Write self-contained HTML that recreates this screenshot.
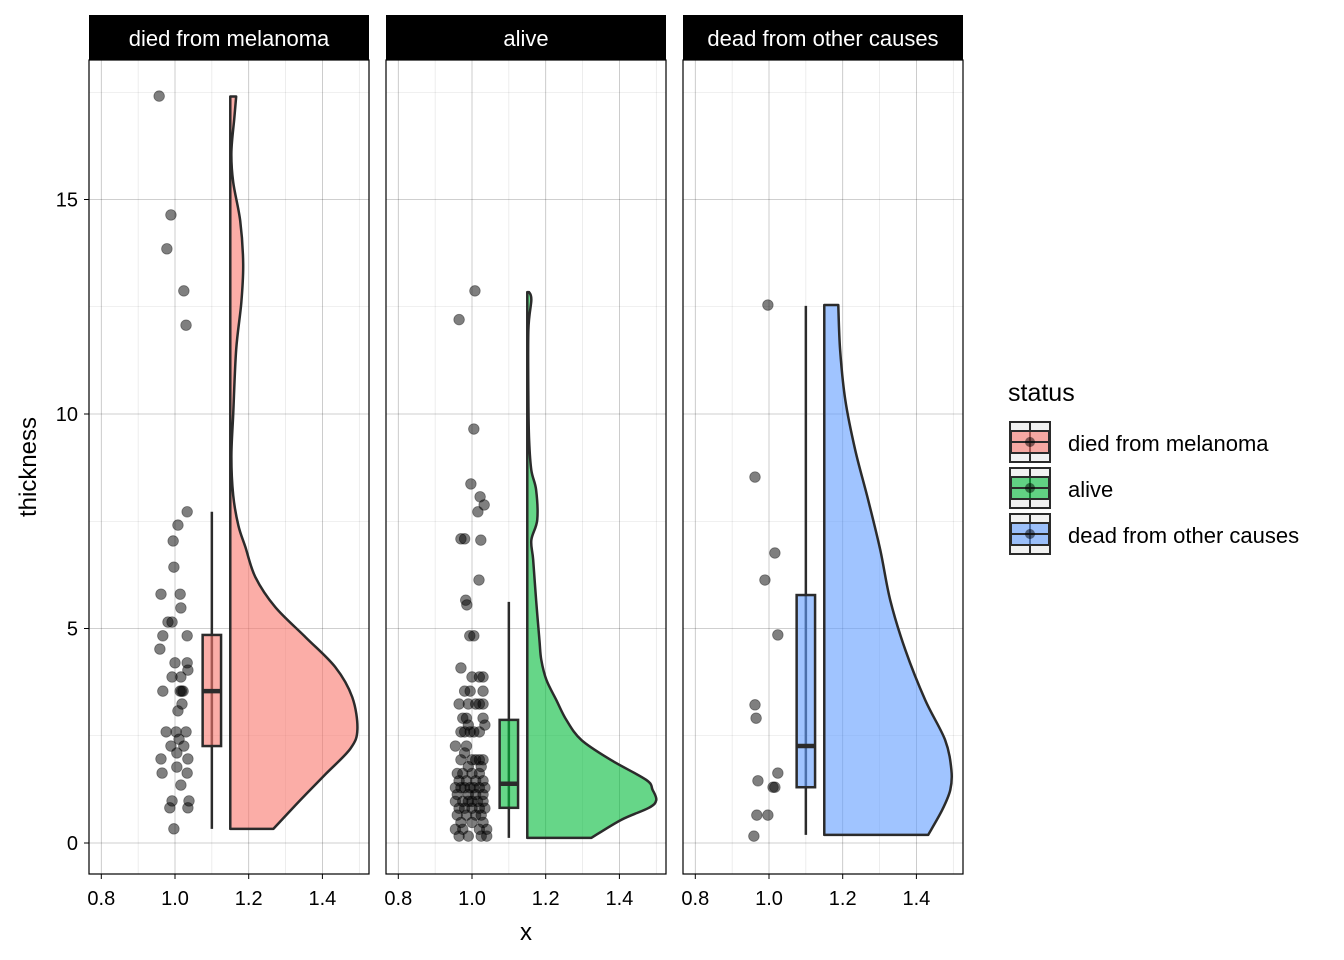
<!DOCTYPE html>
<html><head><meta charset="utf-8"><style>
body{margin:0;background:#fff;font-family:"Liberation Sans",Arial,sans-serif}
svg{display:block}
</style></head><body>
<svg id="c" width="1344" height="960" xmlns="http://www.w3.org/2000/svg"></svg>
<script>
const panelNames=["died from melanoma","alive","dead from other causes"];
const fills=["#F8766D","#00BA38","#619CFF"];
const xTicks=[0.8,1.0,1.2,1.4];
const yTicks=[0,5,10,15];
const pts1=[[0.957,17.41],[0.989,14.64],[0.978,13.85],[1.024,12.87],[1.030,12.07],[1.033,7.72],[1.008,7.41],[0.995,7.04],[0.997,6.43],[0.962,5.80],[1.014,5.80],[1.016,5.48],[0.981,5.15],[0.992,5.15],[0.967,4.83],[1.033,4.83],[0.959,4.52],[1.0,4.20],[1.033,4.20],[1.035,4.03],[0.992,3.87],[1.016,3.87],[0.967,3.54],[1.014,3.54],[1.018,3.54],[1.022,3.54],[1.019,3.24],[1.008,3.08],[0.976,2.59],[1.003,2.59],[1.030,2.59],[0.989,2.26],[1.011,2.42],[1.024,2.26],[0.962,1.96],[1.035,1.96],[1.005,2.10],[0.965,1.63],[1.033,1.63],[1.005,1.77],[1.016,1.35],[0.992,0.98],[1.038,0.98],[0.986,0.82],[1.035,0.82],[0.997,0.33]];
const pts2=[[0.965,12.2],[1.008,12.87],[1.005,9.65],[0.997,8.37],[1.022,8.07],[1.033,7.88],[1.016,7.72],[0.97,7.09],[0.98,7.09],[1.024,7.06],[1.019,6.13],[0.983,5.66],[0.986,5.55],[0.994,4.83],[1.005,4.83],[0.97,4.08],[1.0,3.87],[1.02,3.87],[1.03,3.87],[0.98,3.54],[0.995,3.54],[1.03,3.54],[0.965,3.24],[0.99,3.24],[1.01,3.24],[1.02,3.24],[1.03,3.24],[0.975,2.91],[0.985,2.91],[1.03,2.91],[0.99,2.75],[1.035,2.75],[0.97,2.59],[0.98,2.59],[0.995,2.59],[1.005,2.59],[1.02,2.59],[0.955,2.26],[0.985,2.26],[0.98,2.1],[0.97,1.94],[1.0,1.94],[1.01,1.94],[1.02,1.94],[1.03,1.94],[0.99,1.78],[1.025,1.78],[0.96,1.62],[0.975,1.62],[1.0,1.62],[1.02,1.62],[0.965,1.45],[0.985,1.45],[1.01,1.45],[1.03,1.45],[0.955,1.29],[0.97,1.29],[0.98,1.29],[0.995,1.29],[1.005,1.29],[1.02,1.29],[1.035,1.29],[0.96,1.13],[0.99,1.13],[1.01,1.13],[1.03,1.13],[0.955,0.97],[0.975,0.97],[0.99,0.97],[1.0,0.97],[1.015,0.97],[1.03,0.97],[0.965,0.81],[0.98,0.81],[1.0,0.81],[1.02,0.81],[1.035,0.81],[0.96,0.65],[0.985,0.65],[1.01,0.65],[1.025,0.65],[0.97,0.48],[1.0,0.48],[1.03,0.48],[0.955,0.32],[0.975,0.32],[1.02,0.32],[1.04,0.32],[0.965,0.16],[0.99,0.16],[1.025,0.16],[1.04,0.16]];
const pts3=[[0.997,12.54],[0.962,8.53],[1.016,6.76],[0.989,6.13],[1.024,4.85],[0.962,3.22],[0.965,2.91],[1.024,1.63],[0.970,1.45],[1.011,1.3],[1.016,1.3],[0.967,0.65],[0.997,0.65],[0.959,0.16]];
const box1=[0.33,2.26,3.54,4.85,7.72];
const box2=[0.12,0.82,1.38,2.87,5.62];
const box3=[0.19,1.30,2.26,5.78,12.52];
const vy1=[0.33,1.0,1.6,2.2,2.65,3.4,4.1,4.8,5.5,6.2,6.9,7.4,8.1,9.0,10.0,11.5,12.6,13.5,14.5,15.4,16.1,16.9,17.4];
const vw1=[0.117,0.19,0.258,0.326,0.345,0.331,0.285,0.204,0.122,0.068,0.041,0.022,0.008,0.003,0.008,0.016,0.03,0.035,0.027,0.008,0.003,0.011,0.016];
const vy2=[0.12,0.54,0.82,1.0,1.24,1.47,1.93,2.4,2.87,3.33,3.8,4.27,4.73,5.66,6.6,7.06,7.53,8.23,8.69,9.39,10.33,11.96,12.66,12.84];
const vw2=[0.174,0.255,0.33,0.35,0.34,0.323,0.228,0.147,0.106,0.079,0.052,0.038,0.033,0.024,0.016,0.011,0.027,0.024,0.011,0.005,0.003,0.003,0.011,0.005];
const vy3=[0.19,0.77,1.24,1.7,2.4,3.33,4.5,5.66,6.83,8.0,9.16,10.33,11.49,12.54];
const vw3=[0.282,0.32,0.342,0.345,0.328,0.274,0.22,0.179,0.152,0.119,0.084,0.057,0.043,0.038];
const P=[{pts:pts1,box:box1,vy:vy1,vw:vw1},{pts:pts2,box:box2,vy:vy2,vw:vw2},{pts:pts3,box:box3,vy:vy3,vw:vw3}];

const NS="http://www.w3.org/2000/svg",svg=document.getElementById("c");
function mk(t,a,p){const e=document.createElementNS(NS,t);for(const k in a)e.setAttribute(k,a[k]);(p||svg).appendChild(e);return e;}
const lefts=[89,386,683],pw=280,pTop=60,pBot=874;
const ys=v=>843-v*42.9;
function xs(i){return v=>lefts[i]+86+(v-1)*368.5;}
function spline(pp){
 let s="";
 for(let k=0;k<pp.length-1;k++){
  const p0=pp[Math.max(k-1,0)],p1=pp[k],p2=pp[k+1],p3=pp[Math.min(k+2,pp.length-1)];
  const c1=[p1[0]+(p2[0]-p0[0])/6,p1[1]+(p2[1]-p0[1])/6];
  const c2=[p2[0]-(p3[0]-p1[0])/6,p2[1]-(p3[1]-p1[1])/6];
  s+=" C"+c1[0]+","+c1[1]+" "+c2[0]+","+c2[1]+" "+p2[0]+","+p2[1];
 }
 return s;
}

P.forEach((d,i)=>{
 const x=xs(i),L=lefts[i];
 const g=mk("g",{});
 
 
 [0.9,1.1,1.3,1.5].forEach(v=>mk("line",{x1:x(v),x2:x(v),y1:pTop,y2:pBot,stroke:"#000","stroke-opacity":0.12,"stroke-width":0.6},g));
 [2.5,7.5,12.5,17.5].forEach(v=>mk("line",{x1:L,x2:L+pw,y1:ys(v),y2:ys(v),stroke:"#000","stroke-opacity":0.12,"stroke-width":0.6},g));
 xTicks.forEach(v=>mk("line",{x1:x(v),x2:x(v),y1:pTop,y2:pBot,stroke:"#000","stroke-opacity":0.25,"stroke-width":0.8},g));
 yTicks.forEach(v=>mk("line",{x1:L,x2:L+pw,y1:ys(v),y2:ys(v),stroke:"#000","stroke-opacity":0.25,"stroke-width":0.8},g));
 const pp=d.vy.map((yy,k)=>[x(1.15+d.vw[k]),ys(yy)]);
 let path="M"+x(1.15)+","+ys(d.vy[0])+" L"+pp[0][0]+","+pp[0][1]+spline(pp)+" L"+x(1.15)+","+ys(d.vy[d.vy.length-1])+" Z";
 const vio=mk("path",{d:path,fill:fills[i],"fill-opacity":0.6,stroke:"#2b2b2b","stroke-width":2.5,"stroke-linejoin":"round"},g);
 
 
 const b=d.box;
 mk("line",{x1:x(1.1),x2:x(1.1),y1:ys(b[0]),y2:ys(b[4]),stroke:"#2b2b2b","stroke-width":2.5},g);
 const r=mk("rect",{x:x(1.075),y:ys(b[3]),width:x(1.125)-x(1.075),height:ys(b[1])-ys(b[3]),fill:fills[i],"fill-opacity":0.6,stroke:"#2b2b2b","stroke-width":2.5},g);
 
 
 mk("line",{x1:x(1.075),x2:x(1.125),y1:ys(b[2]),y2:ys(b[2]),stroke:"#2b2b2b","stroke-width":4.5},g);
 d.pts.forEach(p=>{
  const c=mk("circle",{cx:x(p[0]),cy:ys(p[1]),r:5.3,fill:"#000","fill-opacity":0.5,stroke:"#000","stroke-opacity":0.4,"stroke-width":0.8},g);
  
  
 });
 mk("rect",{x:L,y:pTop,width:pw,height:pBot-pTop,fill:"none",stroke:"#000","stroke-width":1.2},g);
 const s=mk("rect",{x:L,y:15,width:pw,height:45,fill:"#000"},g);
 
 
 const st=mk("text",{x:L+pw/2,y:46,"text-anchor":"middle",fill:"#fff","font-size":22},g);
 st.textContent=panelNames[i];
 
 
 xTicks.forEach(v=>{
  mk("line",{x1:x(v),x2:x(v),y1:pBot,y2:pBot+5,stroke:"#000","stroke-width":1},g);
  const t=mk("text",{x:x(v),y:905,"text-anchor":"middle","font-size":20,fill:"#000"},g);
  t.textContent=v.toFixed(1);
  
  
 });
});
yTicks.forEach(v=>{
 mk("line",{x1:84,x2:89,y1:ys(v),y2:ys(v),stroke:"#000","stroke-width":1});
 const t=mk("text",{x:78,y:ys(v)+7,"text-anchor":"end","font-size":20,fill:"#000"});
 t.textContent=v;
 
 
});
const xt=mk("text",{x:526,y:940,"text-anchor":"middle","font-size":24});xt.textContent="x";


const yt=mk("text",{x:0,y:0,"text-anchor":"middle","font-size":24,transform:"translate(36,467) rotate(-90)"});yt.textContent="thickness";


const lt=mk("text",{x:1008,y:401,"font-size":25});lt.textContent="status";


panelNames.forEach((n,i)=>{
 const y0=421+i*46;
 const lg=mk("g",{});
 
 
 mk("rect",{x:1009,y:y0,width:42,height:42,fill:"#f2f2f2"},lg);
 mk("line",{x1:1030,x2:1030,y1:y0+2,y2:y0+40,stroke:"#2b2b2b","stroke-width":2},lg);
 mk("rect",{x:1011,y:y0+10,width:38,height:22,fill:fills[i],"fill-opacity":0.6,stroke:"#2b2b2b","stroke-width":2},lg);
 mk("line",{x1:1011,x2:1049,y1:y0+21,y2:y0+21,stroke:"#2b2b2b","stroke-width":2},lg);
 mk("rect",{x:1010,y:y0+1,width:40,height:40,fill:"none",stroke:"#2b2b2b","stroke-width":2},lg);
 mk("circle",{cx:1030,cy:y0+21,r:5,fill:"#000","fill-opacity":0.5},lg);
 const t=mk("text",{x:1068,y:y0+30,"font-size":22},lg);t.textContent=n;
});
</script>
</body></html>
